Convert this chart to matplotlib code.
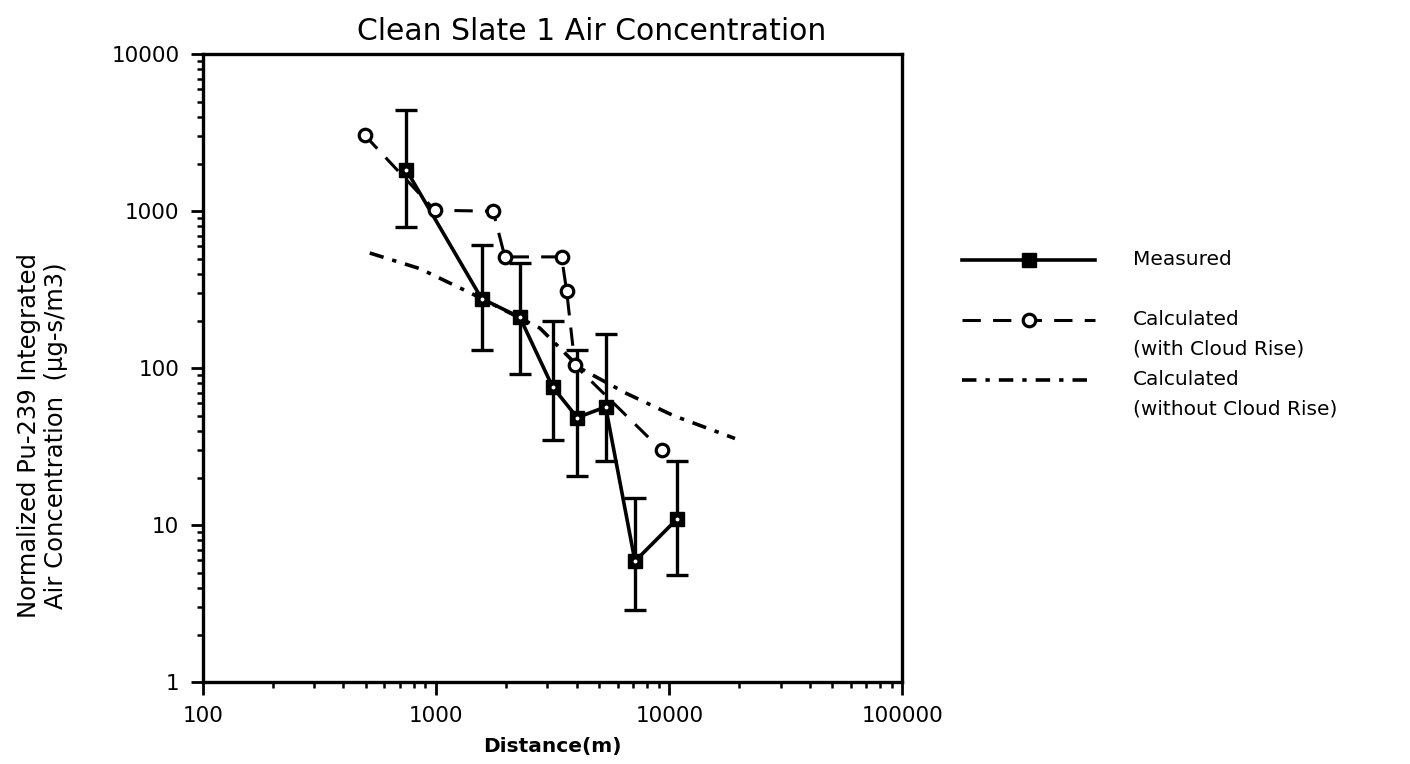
import numpy as np
import matplotlib
matplotlib.use('Agg')
import matplotlib.pyplot as plt
from matplotlib.ticker import LogLocator, FixedLocator, NullFormatter
from matplotlib.legend_handler import HandlerLine2D

# Measured (squares with error bars)
meas_x = [746, 1566, 2287, 3159, 4029, 5333, 7126, 10820]
meas_y = [1824, 278, 211, 76, 48.5, 56.7, 5.9, 11.0]
meas_hi = [4445, 614, 469, 200, 130, 165, 15, 25.7]
meas_lo = [794, 131.5, 91.6, 34.8, 20.5, 25.7, 2.88, 4.8]

# Calculated with cloud rise (open circles)
rise_x = [494, 987, 1757, 1971, 3452, 3628, 3940, 9276]
rise_y = [3048, 1015, 1000, 512, 512, 311, 104.5, 30]

# Calculated without cloud rise
norise_x = [519, 851, 1419, 2787, 4145, 6566, 10400, 19140]
norise_y = [542, 431, 299, 180, 100, 69, 50, 35.7]

xticks = [100, 1000, 10000, 100000]
yticks = [1, 10, 100, 1000, 10000]


class HandlerFirstLine(HandlerLine2D):
    # legend sample level with the first line of a two-line label
    def __init__(self, dy, **kw):
        super().__init__(**kw)
        self.dy = dy

    def create_artists(self, legend, orig_handle, xdescent, ydescent,
                       width, height, fontsize, trans):
        arts = super().create_artists(legend, orig_handle, xdescent, ydescent,
                                      width, height, fontsize, trans)
        for a in arts:
            a.set_ydata(np.asarray(a.get_ydata()) + self.dy)
        return arts


plt.rcParams['font.family'] = ['DejaVu Sans']
fig = plt.figure(figsize=(14.1, 7.64), dpi=100)
ax = fig.add_axes([0.144, 0.107, 0.496, 0.822])

ax.set_xscale('log')
ax.set_yscale('log')
ax.set_xlim(100, 100000)
ax.set_ylim(1, 10000)

my = np.array(meas_y)
yerr = [my - np.array(meas_lo), np.array(meas_hi) - my]
ax.errorbar(meas_x, meas_y, yerr=yerr, fmt='none', ecolor='black',
            elinewidth=2.4, capsize=8, capthick=2.4, zorder=2)
l1, = ax.plot(meas_x, meas_y, '-', color='black', lw=2.6, marker='s',
              markersize=10, markerfacecolor='black', zorder=3)
ax.plot(meas_x, meas_y, 'o', color='white', markersize=1.8, zorder=4)

l2, = ax.plot(rise_x, rise_y, color='black', lw=2.2, linestyle=(0, (6, 4)),
              marker='o', markersize=9, markerfacecolor='white',
              markeredgewidth=2.3, zorder=3)
l3, = ax.plot(norise_x, norise_y, color='black', lw=2.6,
              linestyle=(0, (4, 2.5, 1.2, 2.5)), zorder=2)

for s in ax.spines.values():
    s.set_linewidth(2.4)
ax.tick_params(which='major', direction='out', length=9, width=2,
               labelsize=15.5, pad=8)
ax.tick_params(which='minor', direction='out', length=4.5, width=1.8)
ax.xaxis.set_major_locator(FixedLocator(xticks))
ax.yaxis.set_major_locator(FixedLocator(yticks))
ax.xaxis.set_minor_locator(LogLocator(base=10, subs=np.arange(2, 10)))
ax.yaxis.set_minor_locator(LogLocator(base=10, subs=np.arange(2, 10)))
ax.xaxis.set_minor_formatter(NullFormatter())
ax.yaxis.set_minor_formatter(NullFormatter())
ax.set_xticklabels([str(v) for v in xticks])
ax.set_yticklabels([str(v) for v in yticks])

ax.set_title('Clean Slate 1 Air Concentration', fontsize=21.5, pad=10, x=0.556)
ax.set_xlabel('Distance(m)', fontsize=14.5, fontweight='bold', labelpad=8)
ax.set_ylabel('Normalized Pu-239 Integrated\nAir Concentration  (µg-s/m3)',
              fontsize=17.5, linespacing=1.15)
ax.yaxis.set_label_coords(-0.193, 0.393)

hmap = {l: HandlerFirstLine(10.4) for l in (l1, l2, l3)}
leg = fig.legend([l1, l2, l3],
                 ['Measured\n ', 'Calculated\n(with Cloud Rise)',
                  'Calculated\n(without Cloud Rise)'],
                 loc='upper left', bbox_to_anchor=(0.6695, 0.696),
                 frameon=False, fontsize=14.5, handlelength=6.6,
                 handletextpad=1.9, labelspacing=0.6, handler_map=hmap)
for t in leg.get_texts():
    t.set_linespacing(1.66)

fig.savefig('out.png', dpi=100)
